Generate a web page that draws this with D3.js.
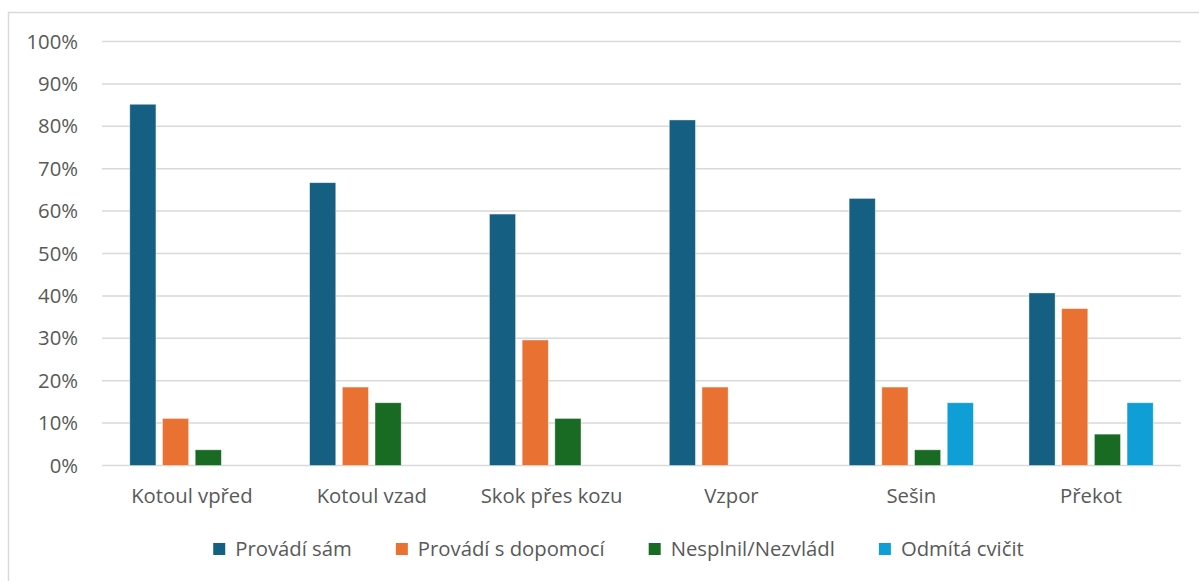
<!DOCTYPE html>
<html>
<head>
<meta charset="utf-8">
<script src="https://cdn.jsdelivr.net/npm/d3@7"></script>
<style>
  html, body { margin: 0; padding: 0; background: #fff; }
  svg { display: block; }
  text { font-family: "Open Sans", "Noto Sans", sans-serif; fill: #595959; }
</style>
</head>
<body>
<svg id="chart" width="1199" height="581"></svg>
<script>
// Exercise names (categories)
const categories = ["Kotoul vpřed", "Kotoul vzad", "Skok přes kozu", "Vzpor", "Sešin", "Překot"];
// Series names
const seriesNames = ["Provádí sám", "Provádí s dopomocí", "Nesplnil/Nezvládl", "Odmítá cvičit"];
// Shares per exercise, in percent
const provadiSam      = [85.2, 66.7, 59.3, 81.5, 63.0, 40.7];
const provadiDopomoc  = [11.1, 18.5, 29.6, 18.5, 18.5, 37.0];
const nesplnil        = [3.7, 14.8, 11.1, 0, 3.7, 7.4];
const odmita          = [0, 0, 0, 0, 14.8, 14.8];
// Y axis ticks
const yTicks = [0, 10, 20, 30, 40, 50, 60, 70, 80, 90, 100];

const seriesValues = [provadiSam, provadiDopomoc, nesplnil, odmita];
const colors = ["#156082", "#E97132", "#196B24", "#0F9ED5"];
const FONT = '"Open Sans", "Noto Sans", sans-serif';
const FS = 20.3;

const svg = d3.select("#chart");
const plot = { left: 102, right: 1181, top: 41.5, bottom: 465.5 };

// Chart area frame
svg.append("rect")
  .attr("x", 8.5).attr("y", 12.5)
  .attr("width", 1240).attr("height", 620)
  .attr("fill", "#fff").attr("stroke", "#D9D9D9").attr("stroke-width", 1.5);

const y = d3.scaleLinear().domain([0, 100]).range([plot.bottom, plot.top]);
const x0 = d3.scaleBand().domain(categories).range([plot.left, plot.right])
  .paddingInner(0.309).paddingOuter(0.1545);
const x1 = d3.scaleBand().domain(seriesNames).range([0, x0.bandwidth()])
  .paddingInner(0.2);

// Gridlines
svg.append("g").selectAll("line").data(yTicks).join("line")
  .attr("x1", plot.left).attr("x2", plot.right)
  .attr("y1", d => y(d)).attr("y2", d => y(d))
  .attr("stroke", "#D9D9D9").attr("stroke-width", 1.5);

// Y axis labels
const yAxis = d3.axisLeft(y).tickValues(yTicks).tickFormat(d => d + "%").tickSize(0).tickPadding(0);
const gy = svg.append("g").attr("transform", "translate(78,0)").call(yAxis);
gy.select(".domain").remove();
gy.selectAll("text").attr("font-size", FS).attr("fill", "#595959").style("font-family", FONT);

// Bars
const rows = categories.map((c, i) => ({ cat: c, vals: seriesNames.map((s, j) => ({ s, j, v: seriesValues[j][i] })) }));
const groups = svg.append("g").selectAll("g").data(rows).join("g")
  .attr("transform", d => `translate(${x0(d.cat)},0)`);
groups.selectAll("rect").data(d => d.vals.filter(v => v.v > 0)).join("rect")
  .attr("x", d => x1(d.s))
  .attr("y", d => y(d.v))
  .attr("width", x1.bandwidth())
  .attr("height", d => y(0) - y(d.v))
  .attr("fill", d => colors[d.j])
  .attr("stroke", "rgba(255,255,255,0.55)")
  .attr("stroke-width", 0.75);

// Category labels
const xAxis = d3.axisBottom(x0).tickSize(0).tickPadding(0);
const gx = svg.append("g").attr("transform", `translate(0,${plot.bottom + 23})`).call(xAxis);
gx.select(".domain").remove();
gx.selectAll("text").attr("font-size", FS).attr("fill", "#595959").style("font-family", FONT);

// Legend
const legend = svg.append("g");
const items = legend.selectAll("g").data(seriesNames).join("g");
items.append("rect").attr("width", 12).attr("height", 12).attr("y", -6)
  .attr("fill", (d, i) => colors[i]);
items.append("text").attr("x", 22).attr("dy", "0.35em")
  .attr("font-size", FS).text(d => d);
const gap = 44;
const widths = [];
items.each(function () {
  widths.push(22 + this.querySelector("text").getComputedTextLength());
});
const total = d3.sum(widths) + gap * (widths.length - 1);
let start = 618.5 - total / 2;
items.attr("transform", (d, i) => {
  const t = `translate(${start},549)`;
  start += widths[i] + gap;
  return t;
});
</script>
</body>
</html>
